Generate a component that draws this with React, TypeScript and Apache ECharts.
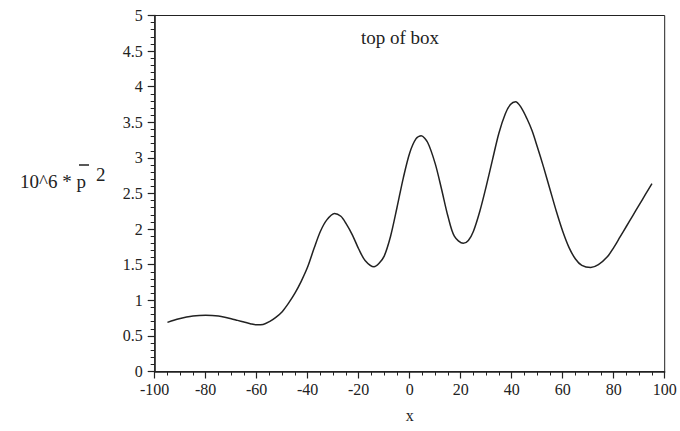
import React, { useEffect, useRef } from "react";
import * as echarts from "echarts";

const xValues = [
  -95, -92.5, -90, -87.5, -85, -82.5, -80, -77.5, -75, -72.5, -70, -67.5, -65, -62.5, -60, -57.5,
  -55, -52.5, -50, -47.5, -45, -42.5, -40, -37.5, -35, -32.5, -29.5, -27, -25, -22.5, -20, -17.5,
  -14, -12, -10, -7.5, -5, -2.5, 0, 2.5, 4.5, 7, 10, 12.5, 15, 17.5, 21, 23, 25, 27.5, 30, 32.5,
  35, 37.5, 39.5, 41.5, 43.5, 46, 48, 50, 52.5, 55, 57.5, 60, 62.5, 65, 67.5, 71, 74, 77.5, 80, 82.5,
  85, 87.5, 90, 92.5, 95,
];
const yValues = [
  0.69, 0.72, 0.745, 0.765, 0.78, 0.788, 0.79, 0.787, 0.778, 0.762, 0.742, 0.718, 0.695, 0.672, 0.655, 0.66,
  0.7, 0.76, 0.84, 0.96, 1.1, 1.27, 1.47, 1.73, 1.97, 2.13, 2.22, 2.18, 2.08, 1.92, 1.72, 1.56,
  1.47, 1.52, 1.62, 1.9, 2.3, 2.72, 3.07, 3.27, 3.31, 3.22, 2.92, 2.56, 2.18, 1.9, 1.8, 1.84, 1.97, 2.25, 2.6, 2.98,
  3.35, 3.62, 3.75, 3.79, 3.72, 3.55, 3.38, 3.16, 2.87, 2.56, 2.25, 1.97, 1.74, 1.58, 1.49, 1.46, 1.5, 1.61, 1.74, 1.89,
  2.04, 2.19, 2.34, 2.49, 2.64,
];
const titleText = "top of box";
const xName = "x";

export default function App() {
  const ref = useRef<HTMLDivElement>(null);
  useEffect(() => {
    if (!ref.current) return;
    const chart = echarts.init(ref.current, null, { renderer: "svg" });
    const font = "Liberation Serif";
    const data = xValues.map((x, i) => [x, yValues[i]]);
    chart.setOption({
      animation: false,
      backgroundColor: "#fff",
      textStyle: { fontFamily: font, color: "#222" },
      grid: {
        left: 154.7,
        right: 15.3,
        top: 15.5,
        bottom: 59.5,
        show: true,
        borderColor: "#222",
        borderWidth: 1,
        backgroundColor: "transparent",
      },
      xAxis: {
        type: "value",
        min: -100,
        max: 100,
        interval: 20,
        name: xName,
        nameLocation: "middle",
        nameGap: 36,
        nameTextStyle: { fontFamily: font, fontSize: 16, color: "#222" },
        axisLine: { show: true, onZero: false, lineStyle: { color: "#222", width: 1.5 } },
        axisTick: { show: true, inside: false, length: 7, lineStyle: { color: "#222", width: 1.2 } },
        minorTick: { show: true, splitNumber: 4, length: 4, lineStyle: { color: "#222", width: 1 } },
        axisLabel: { fontFamily: font, fontSize: 16, color: "#222", margin: 10 },
        splitLine: { show: false },
      },
      yAxis: {
        type: "value",
        min: 0,
        max: 5,
        interval: 0.5,
        axisLine: { show: true, onZero: false, lineStyle: { color: "#222", width: 1.5 } },
        axisTick: { show: true, inside: false, length: 7, lineStyle: { color: "#222", width: 1.2 } },
        minorTick: { show: true, splitNumber: 5, length: 4, lineStyle: { color: "#222", width: 1 } },
        axisLabel: { fontFamily: font, fontSize: 16, color: "#222", margin: 12 },
        splitLine: { show: false },
      },
      graphic: [
        {
          type: "text",
          x: 400,
          y: 37,
          style: { text: titleText, font: `19px ${font}`, fill: "#222", textAlign: "center", textVerticalAlign: "middle" },
        },
        {
          type: "text",
          x: 20,
          y: 181,
          style: { text: "10^6 * p", font: `19px ${font}`, fill: "#222", textAlign: "left", textVerticalAlign: "middle" },
        },
        {
          type: "line",
          shape: { x1: 79, y1: 165, x2: 89, y2: 165 },
          style: { stroke: "#222", lineWidth: 1.5 },
        },
        {
          type: "text",
          x: 96,
          y: 174,
          style: { text: "2", font: `19px ${font}`, fill: "#222", textAlign: "left", textVerticalAlign: "middle" },
        },
      ],
      series: [
        {
          type: "line",
          data,
          smooth: 0.3,
          showSymbol: false,
          lineStyle: { color: "#222", width: 1.5 },
        },
      ],
    });
    return () => chart.dispose();
  }, []);
  return <div ref={ref} style={{ width: 680, height: 431, position: "absolute", left: 0, top: 0 }} />;
}
